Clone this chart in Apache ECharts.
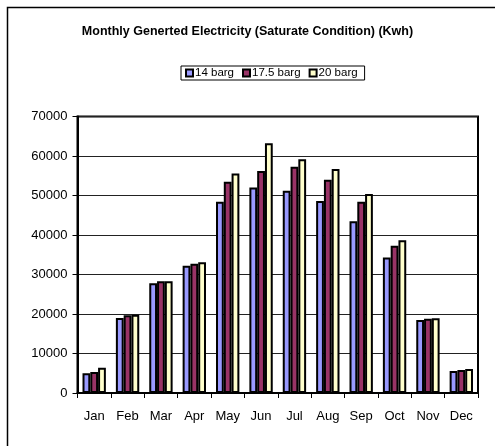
<!DOCTYPE html>
<html><head><meta charset="utf-8">
<script src="https://cdn.jsdelivr.net/npm/echarts@6/dist/echarts.min.js"></script>
<style>html,body{margin:0;padding:0;background:#fff}#c{width:495px;height:446px}</style>
</head><body><div id="c"></div>
<script>
const categories = ['Jan','Feb','Mar','Apr','May','Jun','Jul','Aug','Sep','Oct','Nov','Dec'];
const seriesNames = ['14 barg','17.5 barg','20 barg'];
const barg14 = [5000,19000,27800,32200,48400,52000,51200,48600,43500,34300,18500,5600];
const barg175 = [5300,19700,28300,32700,53500,56200,57300,54000,48400,37300,18800,5800];
const barg20 = [6400,19800,28300,33100,55600,63200,59200,56700,50400,38700,18900,6100];
const colors = ['#9999FF','#993366','#FFFFCC'];
const FONT = 'Liberation Sans, Arial, sans-serif';
const chart = echarts.init(document.getElementById('c'));
const data = [barg14, barg175, barg20];
chart.setOption({
  animation:false,
  backgroundColor:'#fff',
  graphic:[{type:'rect',shape:{x:7.5,y:7.5,width:520,height:470},style:{fill:null,stroke:'#000',lineWidth:1.5},z:-1}],
  title:{text:'Monthly Generted Electricity (Saturate Condition) (Kwh)',left:'center',top:20,
    textStyle:{fontFamily:FONT,fontSize:12.5,fontWeight:'bold',color:'#000'}},
  legend:{data:seriesNames,top:66,left:181,padding:[1,7,1,4],itemGap:8,itemWidth:7,itemHeight:7,
    borderColor:'#000',borderWidth:1,icon:'rect',
    textStyle:{fontFamily:FONT,fontSize:11.5,color:'#000',padding:[0,0,0,-3]}},
  grid:{left:77.5,right:17,top:116.5,bottom:53,show:true,borderColor:'#000',borderWidth:2,containLabel:false},
  xAxis:{type:'category',data:categories,
    axisLine:{lineStyle:{color:'#000',width:2}},
    axisTick:{show:true,length:5,lineStyle:{color:'#000'}},
    axisLabel:{fontFamily:FONT,fontSize:13,color:'#000',margin:17}},
  yAxis:{type:'value',min:0,max:70000,interval:10000,
    axisLine:{show:true,lineStyle:{color:'#000',width:2}},
    axisTick:{show:true,inside:false,length:5,lineStyle:{color:'#000'}},
    axisLabel:{fontFamily:FONT,fontSize:13,color:'#000',margin:10,formatter:v=>String(v)},
    splitLine:{lineStyle:{color:'#222',width:1}}},
  series:seriesNames.map((n,i)=>({name:n,type:'bar',data:data[i],barGap:'0%',barCategoryGap:'30%',
    itemStyle:{color:colors[i],borderColor:'#000',borderWidth:2}}))
});
</script></body></html>
